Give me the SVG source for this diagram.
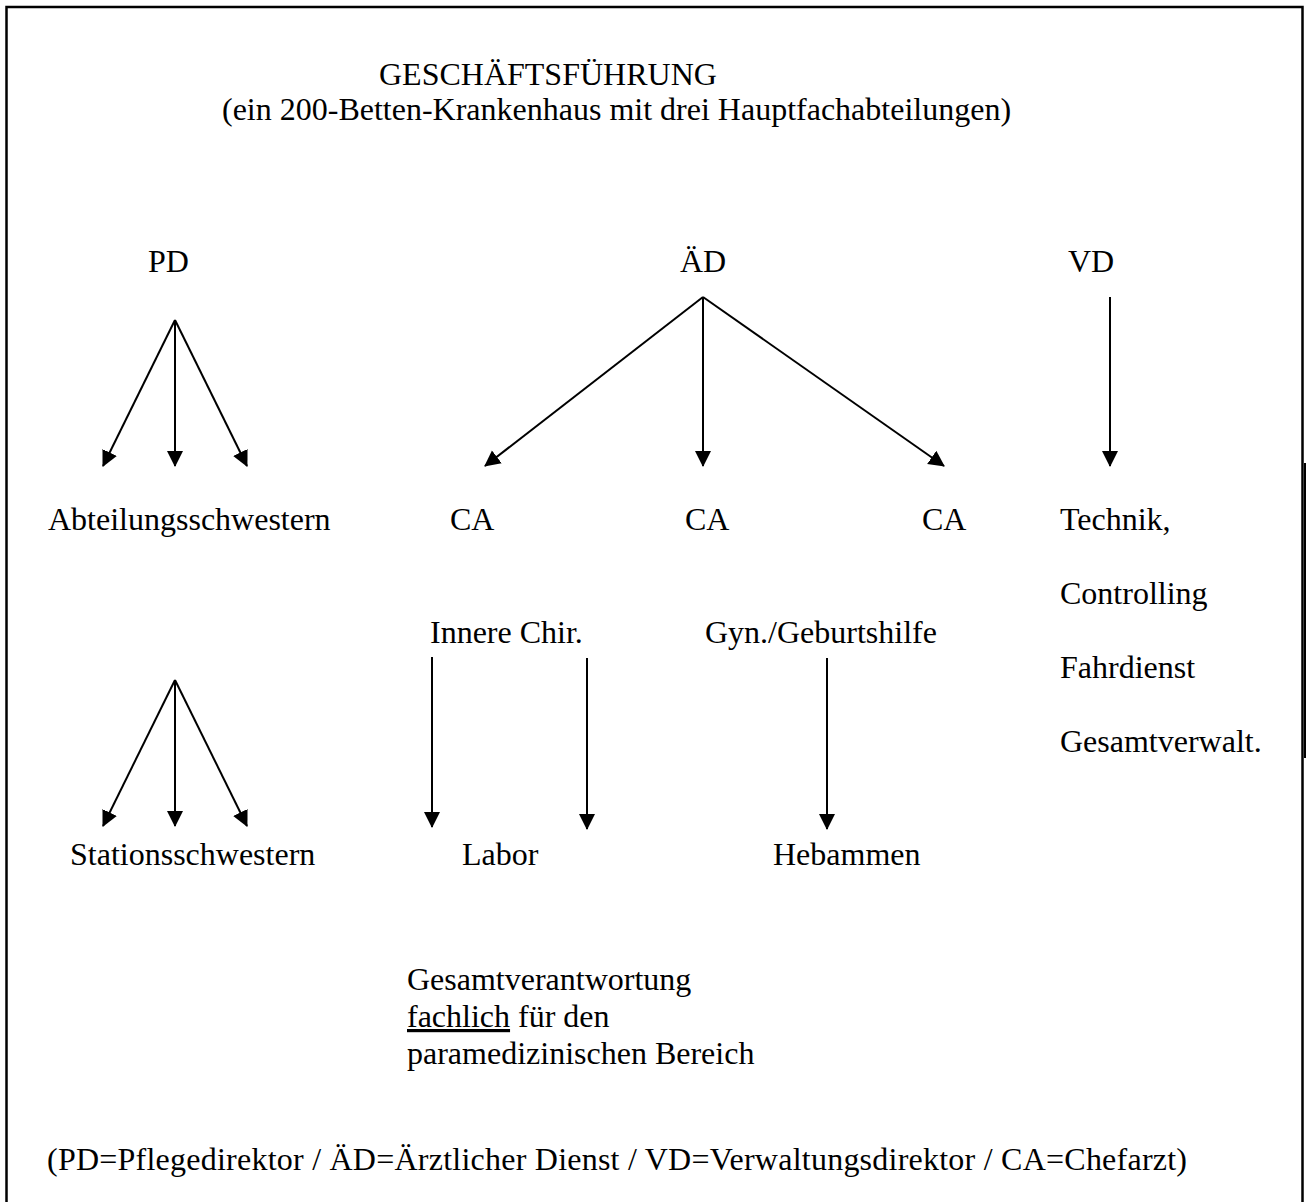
<svg xmlns="http://www.w3.org/2000/svg" width="1306" height="1202" viewBox="0 0 1306 1202">
<style>
text{font-family:"Liberation Serif","Times New Roman",serif;font-size:32px;fill:#000}
.c{stroke:#000;stroke-width:2;fill:none}
</style>
<defs>
<marker id="ah" markerUnits="userSpaceOnUse" markerWidth="16" markerHeight="18" viewBox="0 0 16 18" refX="15" refY="9" orient="auto">
<path d="M0,1 L16,9 L0,17 Z" fill="#000"/>
</marker>
</defs>
<rect width="1306" height="1202" fill="#fff"/>
<rect x="6.5" y="7" width="1296" height="1210" fill="none" stroke="#000" stroke-width="2.5"/>
<line x1="1305" y1="463" x2="1305" y2="758" stroke="#000" stroke-width="2"/>
<g id="title"><text x="379" y="85">GESCHÄFTSFÜHRUNG</text><text x="222" y="120">(ein 200-Betten-Krankenhaus mit drei Hauptfachabteilungen)</text></g>
<g id="pd"><text x="148" y="272">PD</text></g>
<g id="aed"><text x="680" y="272">ÄD</text></g>
<g id="vd"><text x="1068" y="272">VD</text></g>
<g id="abteilungsschwestern"><text x="48" y="530">Abteilungsschwestern</text></g>
<g id="ca1"><text x="450" y="530">CA</text></g>
<g id="ca2"><text x="685" y="530">CA</text></g>
<g id="ca3"><text x="922" y="530">CA</text></g>
<g id="verwaltung"><text x="1060" y="530">Technik,</text><text x="1060" y="604">Controlling</text><text x="1060" y="678">Fahrdienst</text><text x="1060" y="752">Gesamtverwalt.</text></g>
<g id="innere"><text x="430" y="643">Innere Chir.</text></g>
<g id="gyn"><text x="705" y="643">Gyn./Geburtshilfe</text></g>
<g id="stationsschwestern"><text x="70" y="865">Stationsschwestern</text></g>
<g id="labor"><text x="462" y="865">Labor</text></g>
<g id="hebammen"><text x="773" y="865">Hebammen</text></g>
<g id="gesamtverantwortung"><text x="407" y="990">Gesamtverantwortung</text><text x="407" y="1027"><tspan text-decoration="underline">fachlich</tspan> für den</text><text x="407" y="1064">paramedizinischen Bereich</text></g>
<g id="legende"><text x="47" y="1170" textLength="1140" lengthAdjust="spacing">(PD=Pflegedirektor / ÄD=Ärztlicher Dienst / VD=Verwaltungsdirektor / CA=Chefarzt)</text></g>
<g id="connectors" class="c">
<line x1="175" y1="320" x2="103" y2="466" marker-end="url(#ah)"/>
<line x1="175" y1="320" x2="175" y2="466" marker-end="url(#ah)"/>
<line x1="175" y1="320" x2="247" y2="466" marker-end="url(#ah)"/>
<line x1="703" y1="297" x2="485" y2="466" marker-end="url(#ah)"/>
<line x1="703" y1="297" x2="703" y2="466" marker-end="url(#ah)"/>
<line x1="703" y1="297" x2="944" y2="466" marker-end="url(#ah)"/>
<line x1="1110" y1="297" x2="1110" y2="466" marker-end="url(#ah)"/>
<line x1="175" y1="680" x2="103" y2="826" marker-end="url(#ah)"/>
<line x1="175" y1="680" x2="175" y2="826" marker-end="url(#ah)"/>
<line x1="175" y1="680" x2="247" y2="826" marker-end="url(#ah)"/>
<line x1="432" y1="657" x2="432" y2="827" marker-end="url(#ah)"/>
<line x1="587" y1="658" x2="587" y2="829" marker-end="url(#ah)"/>
<line x1="827" y1="658" x2="827" y2="829" marker-end="url(#ah)"/>
</g>
</svg>
